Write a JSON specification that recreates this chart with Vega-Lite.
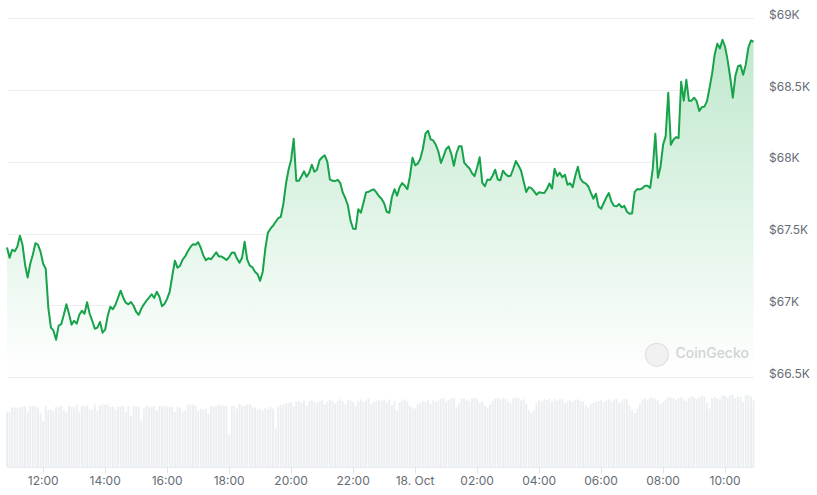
{
  "$schema": "https://vega.github.io/schema/vega-lite/v6.json",
  "width": 746.5,
  "height": 467,
  "autosize": {"type": "none"},
  "padding": {"left": 7, "top": 0, "right": 63.5, "bottom": 28},
  "background": "#ffffff",
  "config": {"view": {"stroke": null}, "font": "Inter"},
  "data": {"values": [
{"t":"2024-10-17T10:51","p":67403,"v":95},{"t":"2024-10-17T10:56","p":67332,"v":94},{"t":"2024-10-17T11:01","p":67387,"v":102},{"t":"2024-10-17T11:06","p":67377,"v":102},{"t":"2024-10-17T11:11","p":67408,"v":102},{"t":"2024-10-17T11:16","p":67485,"v":102},{"t":"2024-10-17T11:21","p":67422,"v":104},{"t":"2024-10-17T11:26","p":67283,"v":104},{"t":"2024-10-17T11:31","p":67194,"v":95},{"t":"2024-10-17T11:36","p":67290,"v":104},{"t":"2024-10-17T11:41","p":67352,"v":104},{"t":"2024-10-17T11:46","p":67433,"v":104},
{"t":"2024-10-17T11:51","p":67422,"v":102},{"t":"2024-10-17T11:56","p":67373,"v":92},{"t":"2024-10-17T12:01","p":67290,"v":79},{"t":"2024-10-17T12:06","p":67255,"v":105},{"t":"2024-10-17T12:11","p":66983,"v":98},{"t":"2024-10-17T12:16","p":66844,"v":98},{"t":"2024-10-17T12:21","p":66823,"v":96},{"t":"2024-10-17T12:26","p":66760,"v":103},{"t":"2024-10-17T12:31","p":66858,"v":103},{"t":"2024-10-17T12:36","p":66868,"v":105},{"t":"2024-10-17T12:41","p":66934,"v":98},{"t":"2024-10-17T12:46","p":67007,"v":94},
{"t":"2024-10-17T12:51","p":66941,"v":105},{"t":"2024-10-17T12:56","p":66865,"v":103},{"t":"2024-10-17T13:01","p":66892,"v":103},{"t":"2024-10-17T13:06","p":66872,"v":107},{"t":"2024-10-17T13:11","p":66934,"v":95},{"t":"2024-10-17T13:16","p":66962,"v":105},{"t":"2024-10-17T13:21","p":66941,"v":105},{"t":"2024-10-17T13:26","p":67021,"v":105},{"t":"2024-10-17T13:31","p":66941,"v":99},{"t":"2024-10-17T13:36","p":66892,"v":98},{"t":"2024-10-17T13:41","p":66837,"v":107},{"t":"2024-10-17T13:46","p":66844,"v":96},
{"t":"2024-10-17T13:51","p":66885,"v":105},{"t":"2024-10-17T13:56","p":66809,"v":107},{"t":"2024-10-17T14:01","p":66830,"v":107},{"t":"2024-10-17T14:06","p":66927,"v":107},{"t":"2024-10-17T14:11","p":66990,"v":103},{"t":"2024-10-17T14:16","p":66973,"v":103},{"t":"2024-10-17T14:21","p":67004,"v":98},{"t":"2024-10-17T14:26","p":67053,"v":104},{"t":"2024-10-17T14:31","p":67102,"v":103},{"t":"2024-10-17T14:36","p":67053,"v":105},{"t":"2024-10-17T14:41","p":67018,"v":94},{"t":"2024-10-17T14:46","p":67007,"v":105},
{"t":"2024-10-17T14:51","p":67023,"v":88},{"t":"2024-10-17T14:56","p":66997,"v":105},{"t":"2024-10-17T15:01","p":66955,"v":104},{"t":"2024-10-17T15:06","p":66934,"v":104},{"t":"2024-10-17T15:11","p":66976,"v":80},{"t":"2024-10-17T15:16","p":67007,"v":100},{"t":"2024-10-17T15:21","p":67032,"v":105},{"t":"2024-10-17T15:26","p":67053,"v":103},{"t":"2024-10-17T15:31","p":67077,"v":103},{"t":"2024-10-17T15:36","p":67051,"v":105},{"t":"2024-10-17T15:41","p":67095,"v":96},{"t":"2024-10-17T15:46","p":67060,"v":104},
{"t":"2024-10-17T15:51","p":66993,"v":104},{"t":"2024-10-17T15:56","p":67011,"v":105},{"t":"2024-10-17T16:01","p":67046,"v":104},{"t":"2024-10-17T16:06","p":67095,"v":103},{"t":"2024-10-17T16:11","p":67206,"v":103},{"t":"2024-10-17T16:16","p":67311,"v":94},{"t":"2024-10-17T16:21","p":67262,"v":103},{"t":"2024-10-17T16:26","p":67276,"v":101},{"t":"2024-10-17T16:31","p":67318,"v":95},{"t":"2024-10-17T16:36","p":67342,"v":97},{"t":"2024-10-17T16:41","p":67377,"v":107},{"t":"2024-10-17T16:46","p":67405,"v":107},
{"t":"2024-10-17T16:51","p":67426,"v":107},{"t":"2024-10-17T16:56","p":67422,"v":105},{"t":"2024-10-17T17:01","p":67440,"v":96},{"t":"2024-10-17T17:06","p":67401,"v":100},{"t":"2024-10-17T17:11","p":67348,"v":98},{"t":"2024-10-17T17:16","p":67314,"v":100},{"t":"2024-10-17T17:21","p":67328,"v":91},{"t":"2024-10-17T17:26","p":67321,"v":105},{"t":"2024-10-17T17:31","p":67345,"v":103},{"t":"2024-10-17T17:36","p":67370,"v":105},{"t":"2024-10-17T17:41","p":67341,"v":107},{"t":"2024-10-17T17:46","p":67341,"v":105},
{"t":"2024-10-17T17:51","p":67329,"v":105},{"t":"2024-10-17T17:56","p":67316,"v":105},{"t":"2024-10-17T18:01","p":67336,"v":55},{"t":"2024-10-17T18:06","p":67366,"v":105},{"t":"2024-10-17T18:11","p":67368,"v":105},{"t":"2024-10-17T18:16","p":67328,"v":100},{"t":"2024-10-17T18:21","p":67297,"v":108},{"t":"2024-10-17T18:26","p":67332,"v":105},{"t":"2024-10-17T18:31","p":67443,"v":105},{"t":"2024-10-17T18:36","p":67318,"v":107},{"t":"2024-10-17T18:41","p":67276,"v":107},{"t":"2024-10-17T18:46","p":67265,"v":103},
{"t":"2024-10-17T18:51","p":67234,"v":102},{"t":"2024-10-17T18:56","p":67217,"v":98},{"t":"2024-10-17T19:01","p":67171,"v":100},{"t":"2024-10-17T19:06","p":67234,"v":97},{"t":"2024-10-17T19:11","p":67394,"v":101},{"t":"2024-10-17T19:16","p":67506,"v":99},{"t":"2024-10-17T19:21","p":67534,"v":103},{"t":"2024-10-17T19:26","p":67555,"v":100},{"t":"2024-10-17T19:31","p":67582,"v":66},{"t":"2024-10-17T19:36","p":67607,"v":104},{"t":"2024-10-17T19:41","p":67617,"v":106},{"t":"2024-10-17T19:46","p":67708,"v":108},
{"t":"2024-10-17T19:51","p":67847,"v":109},{"t":"2024-10-17T19:56","p":67945,"v":110},{"t":"2024-10-17T20:01","p":68015,"v":111},{"t":"2024-10-17T20:06","p":68161,"v":104},{"t":"2024-10-17T20:11","p":67868,"v":112},{"t":"2024-10-17T20:16","p":67868,"v":113},{"t":"2024-10-17T20:21","p":67900,"v":110},{"t":"2024-10-17T20:26","p":67934,"v":114},{"t":"2024-10-17T20:31","p":67896,"v":105},{"t":"2024-10-17T20:36","p":67924,"v":113},{"t":"2024-10-17T20:41","p":67980,"v":114},{"t":"2024-10-17T20:46","p":67931,"v":112},
{"t":"2024-10-17T20:51","p":67945,"v":110},{"t":"2024-10-17T20:56","p":68011,"v":113},{"t":"2024-10-17T21:01","p":68032,"v":114},{"t":"2024-10-17T21:06","p":68045,"v":107},{"t":"2024-10-17T21:11","p":68001,"v":112},{"t":"2024-10-17T21:16","p":67878,"v":115},{"t":"2024-10-17T21:21","p":67868,"v":113},{"t":"2024-10-17T21:26","p":67866,"v":109},{"t":"2024-10-17T21:31","p":67875,"v":112},{"t":"2024-10-17T21:36","p":67854,"v":116},{"t":"2024-10-17T21:41","p":67785,"v":113},{"t":"2024-10-17T21:46","p":67746,"v":108},
{"t":"2024-10-17T21:51","p":67694,"v":114},{"t":"2024-10-17T21:56","p":67589,"v":115},{"t":"2024-10-17T22:01","p":67534,"v":111},{"t":"2024-10-17T22:06","p":67532,"v":105},{"t":"2024-10-17T22:11","p":67670,"v":113},{"t":"2024-10-17T22:16","p":67645,"v":116},{"t":"2024-10-17T22:21","p":67715,"v":112},{"t":"2024-10-17T22:26","p":67787,"v":114},{"t":"2024-10-17T22:31","p":67791,"v":117},{"t":"2024-10-17T22:36","p":67802,"v":108},{"t":"2024-10-17T22:41","p":67808,"v":112},{"t":"2024-10-17T22:46","p":67787,"v":113},
{"t":"2024-10-17T22:51","p":67760,"v":115},{"t":"2024-10-17T22:56","p":67743,"v":114},{"t":"2024-10-17T23:01","p":67711,"v":116},{"t":"2024-10-17T23:06","p":67652,"v":111},{"t":"2024-10-17T23:11","p":67645,"v":115},{"t":"2024-10-17T23:16","p":67753,"v":106},{"t":"2024-10-17T23:21","p":67809,"v":113},{"t":"2024-10-17T23:26","p":67764,"v":96},{"t":"2024-10-17T23:31","p":67823,"v":110},{"t":"2024-10-17T23:36","p":67852,"v":114},{"t":"2024-10-17T23:41","p":67833,"v":116},{"t":"2024-10-17T23:46","p":67809,"v":112},
{"t":"2024-10-17T23:51","p":67900,"v":104},{"t":"2024-10-17T23:56","p":68029,"v":102},{"t":"2024-10-18T00:01","p":67976,"v":100},{"t":"2024-10-18T00:06","p":67987,"v":107},{"t":"2024-10-18T00:11","p":68022,"v":110},{"t":"2024-10-18T00:16","p":68091,"v":113},{"t":"2024-10-18T00:21","p":68196,"v":111},{"t":"2024-10-18T00:26","p":68217,"v":114},{"t":"2024-10-18T00:31","p":68157,"v":108},{"t":"2024-10-18T00:36","p":68149,"v":115},{"t":"2024-10-18T00:41","p":68119,"v":112},{"t":"2024-10-18T00:46","p":68072,"v":114},
{"t":"2024-10-18T00:51","p":67992,"v":117},{"t":"2024-10-18T00:56","p":68038,"v":118},{"t":"2024-10-18T01:01","p":68090,"v":112},{"t":"2024-10-18T01:06","p":68107,"v":115},{"t":"2024-10-18T01:11","p":68056,"v":118},{"t":"2024-10-18T01:16","p":67973,"v":119},{"t":"2024-10-18T01:21","p":68060,"v":103},{"t":"2024-10-18T01:26","p":68109,"v":109},{"t":"2024-10-18T01:31","p":68108,"v":117},{"t":"2024-10-18T01:36","p":67994,"v":118},{"t":"2024-10-18T01:41","p":67973,"v":116},{"t":"2024-10-18T01:46","p":67955,"v":113},
{"t":"2024-10-18T01:51","p":67922,"v":118},{"t":"2024-10-18T01:56","p":67900,"v":119},{"t":"2024-10-18T02:01","p":67960,"v":117},{"t":"2024-10-18T02:06","p":68032,"v":110},{"t":"2024-10-18T02:11","p":67854,"v":112},{"t":"2024-10-18T02:16","p":67830,"v":105},{"t":"2024-10-18T02:21","p":67877,"v":102},{"t":"2024-10-18T02:26","p":67873,"v":107},{"t":"2024-10-18T02:31","p":67903,"v":113},{"t":"2024-10-18T02:36","p":67945,"v":117},{"t":"2024-10-18T02:41","p":67877,"v":119},{"t":"2024-10-18T02:46","p":67872,"v":116},
{"t":"2024-10-18T02:51","p":67938,"v":118},{"t":"2024-10-18T02:56","p":67915,"v":117},{"t":"2024-10-18T03:01","p":67900,"v":112},{"t":"2024-10-18T03:06","p":67903,"v":110},{"t":"2024-10-18T03:11","p":67952,"v":118},{"t":"2024-10-18T03:16","p":68006,"v":119},{"t":"2024-10-18T03:21","p":67974,"v":118},{"t":"2024-10-18T03:26","p":67940,"v":114},{"t":"2024-10-18T03:31","p":67865,"v":116},{"t":"2024-10-18T03:36","p":67790,"v":108},{"t":"2024-10-18T03:41","p":67823,"v":98},{"t":"2024-10-18T03:46","p":67817,"v":93},
{"t":"2024-10-18T03:51","p":67796,"v":97},{"t":"2024-10-18T03:56","p":67771,"v":110},{"t":"2024-10-18T04:01","p":67788,"v":114},{"t":"2024-10-18T04:06","p":67785,"v":113},{"t":"2024-10-18T04:11","p":67783,"v":116},{"t":"2024-10-18T04:16","p":67810,"v":115},{"t":"2024-10-18T04:21","p":67849,"v":117},{"t":"2024-10-18T04:26","p":67814,"v":112},{"t":"2024-10-18T04:31","p":67952,"v":116},{"t":"2024-10-18T04:36","p":67901,"v":114},{"t":"2024-10-18T04:41","p":67924,"v":117},{"t":"2024-10-18T04:46","p":67893,"v":116},
{"t":"2024-10-18T04:51","p":67910,"v":110},{"t":"2024-10-18T04:56","p":67840,"v":113},{"t":"2024-10-18T05:01","p":67851,"v":114},{"t":"2024-10-18T05:06","p":67823,"v":112},{"t":"2024-10-18T05:11","p":67903,"v":115},{"t":"2024-10-18T05:16","p":67966,"v":116},{"t":"2024-10-18T05:21","p":67882,"v":113},{"t":"2024-10-18T05:26","p":67858,"v":112},{"t":"2024-10-18T05:31","p":67850,"v":106},{"t":"2024-10-18T05:36","p":67830,"v":102},{"t":"2024-10-18T05:41","p":67785,"v":108},{"t":"2024-10-18T05:46","p":67743,"v":110},
{"t":"2024-10-18T05:51","p":67778,"v":112},{"t":"2024-10-18T05:56","p":67689,"v":113},{"t":"2024-10-18T06:01","p":67673,"v":115},{"t":"2024-10-18T06:06","p":67713,"v":111},{"t":"2024-10-18T06:11","p":67751,"v":114},{"t":"2024-10-18T06:16","p":67782,"v":116},{"t":"2024-10-18T06:21","p":67724,"v":112},{"t":"2024-10-18T06:26","p":67693,"v":115},{"t":"2024-10-18T06:31","p":67690,"v":117},{"t":"2024-10-18T06:36","p":67706,"v":110},{"t":"2024-10-18T06:41","p":67683,"v":113},{"t":"2024-10-18T06:46","p":67693,"v":117},
{"t":"2024-10-18T06:51","p":67652,"v":116},{"t":"2024-10-18T06:56","p":67638,"v":106},{"t":"2024-10-18T07:01","p":67641,"v":98},{"t":"2024-10-18T07:06","p":67791,"v":93},{"t":"2024-10-18T07:11","p":67810,"v":100},{"t":"2024-10-18T07:16","p":67808,"v":108},{"t":"2024-10-18T07:21","p":67816,"v":116},{"t":"2024-10-18T07:26","p":67834,"v":118},{"t":"2024-10-18T07:31","p":67833,"v":115},{"t":"2024-10-18T07:36","p":67818,"v":119},{"t":"2024-10-18T07:41","p":67952,"v":118},{"t":"2024-10-18T07:46","p":68196,"v":117},
{"t":"2024-10-18T07:51","p":67889,"v":114},{"t":"2024-10-18T07:56","p":67966,"v":108},{"t":"2024-10-18T08:01","p":68119,"v":111},{"t":"2024-10-18T08:06","p":68179,"v":116},{"t":"2024-10-18T08:11","p":68482,"v":120},{"t":"2024-10-18T08:16","p":68119,"v":119},{"t":"2024-10-18T08:21","p":68154,"v":118},{"t":"2024-10-18T08:26","p":68171,"v":115},{"t":"2024-10-18T08:31","p":68166,"v":118},{"t":"2024-10-18T08:36","p":68558,"v":120},{"t":"2024-10-18T08:41","p":68426,"v":116},{"t":"2024-10-18T08:46","p":68572,"v":113},
{"t":"2024-10-18T08:51","p":68426,"v":118},{"t":"2024-10-18T08:56","p":68426,"v":121},{"t":"2024-10-18T09:01","p":68447,"v":120},{"t":"2024-10-18T09:06","p":68423,"v":116},{"t":"2024-10-18T09:11","p":68354,"v":119},{"t":"2024-10-18T09:16","p":68381,"v":122},{"t":"2024-10-18T09:21","p":68385,"v":121},{"t":"2024-10-18T09:26","p":68423,"v":110},{"t":"2024-10-18T09:31","p":68516,"v":100},{"t":"2024-10-18T09:36","p":68618,"v":118},{"t":"2024-10-18T09:41","p":68750,"v":121},{"t":"2024-10-18T09:46","p":68824,"v":117},
{"t":"2024-10-18T09:51","p":68791,"v":116},{"t":"2024-10-18T09:56","p":68851,"v":123},{"t":"2024-10-18T10:01","p":68802,"v":122},{"t":"2024-10-18T10:06","p":68707,"v":119},{"t":"2024-10-18T10:11","p":68586,"v":123},{"t":"2024-10-18T10:16","p":68447,"v":124},{"t":"2024-10-18T10:21","p":68600,"v":118},{"t":"2024-10-18T10:26","p":68666,"v":121},{"t":"2024-10-18T10:31","p":68673,"v":120},{"t":"2024-10-18T10:36","p":68607,"v":112},{"t":"2024-10-18T10:41","p":68677,"v":123},{"t":"2024-10-18T10:46","p":68795,"v":124},
{"t":"2024-10-18T10:51","p":68846,"v":121},{"t":"2024-10-18T10:56","p":68837,"v":114}
  ]},
  "encoding": {
    "x": {
      "field": "t",
      "type": "temporal",
      "scale": {"nice": false, "padding": 0},
      "axis": {
        "title": null,
        "grid": false,
        "values": [
          {"year": 2024, "month": 10, "date": 17, "hours": 12},
          {"year": 2024, "month": 10, "date": 17, "hours": 14},
          {"year": 2024, "month": 10, "date": 17, "hours": 16},
          {"year": 2024, "month": 10, "date": 17, "hours": 18},
          {"year": 2024, "month": 10, "date": 17, "hours": 20},
          {"year": 2024, "month": 10, "date": 17, "hours": 22},
          {"year": 2024, "month": 10, "date": 18, "hours": 0},
          {"year": 2024, "month": 10, "date": 18, "hours": 2},
          {"year": 2024, "month": 10, "date": 18, "hours": 4},
          {"year": 2024, "month": 10, "date": 18, "hours": 6},
          {"year": 2024, "month": 10, "date": 18, "hours": 8},
          {"year": 2024, "month": 10, "date": 18, "hours": 10}
        ],
        "labelExpr": "hours(datum.value) == 0 ? timeFormat(datum.value, '%d. %b') : timeFormat(datum.value, '%H:%M')",
        "domain": true,
        "domainColor": "#e8eaed",
        "tickColor": "#e3e5e8",
        "tickSize": 6,
        "labelPadding": 2,
        "labelFont": "Inter",
        "labelFontSize": 12,
        "labelColor": "#656c76",
        "labelOverlap": false
      }
    }
  },
  "layer": [
    {
      "mark": {"type": "bar", "size": 2, "color": "#eceff2"},
      "encoding": {
        "y": {"field": "v", "type": "quantitative", "scale": {"domain": [0, 800], "nice": false}, "axis": null}
      }
    },
    {
      "layer": [
        {
          "mark": {
            "type": "area",
            "color": {
              "gradient": "linear",
              "x1": 0, "y1": 0, "x2": 0, "y2": 1,
              "stops": [
                {"offset": 0, "color": "#c0e8cd"},
                {"offset": 1, "color": "#ffffff"}
              ]
            }
          },
          "encoding": {
            "y": {
              "field": "p",
              "type": "quantitative",
              "scale": {"domain": [65873, 69128], "nice": false, "zero": false},
              "axis": {
                "orient": "right",
                "title": null,
                "values": [66500, 67000, 67500, 68000, 68500, 69000],
                "labelExpr": "'$' + (datum.value / 1000) + 'K'",
                "domain": false,
                "ticks": false,
                "grid": true,
                "gridColor": "#eceef1",
                "gridWidth": 1,
                "labelPadding": 15,
                "labelBaseline": "alphabetic",
                "labelFont": "Inter",
                "labelFontSize": 12,
                "labelColor": "#656c76"
              }
            },
            "y2": {"datum": 66500}
          }
        },
        {
          "mark": {"type": "line", "color": "#16a34a", "strokeWidth": 2, "strokeJoin": "round"},
          "encoding": {
            "y": {
              "field": "p",
              "type": "quantitative",
              "scale": {"domain": [65873, 69128], "nice": false, "zero": false},
              "axis": {
                "orient": "right",
                "title": null,
                "values": [66500, 67000, 67500, 68000, 68500, 69000],
                "labelExpr": "'$' + (datum.value / 1000) + 'K'",
                "domain": false,
                "ticks": false,
                "grid": true,
                "gridColor": "#eceef1",
                "gridWidth": 1,
                "labelPadding": 15,
                "labelBaseline": "alphabetic",
                "labelFont": "Inter",
                "labelFontSize": 12,
                "labelColor": "#656c76"
              }
            }
          }
        },
        {
          "data": {"values": [{"label": "CoinGecko", "lt": "2024-10-18T07:49", "lp": 66655}]},
          "mark": {"type": "point", "filled": true, "shape": "circle", "size": 530, "color": "#f1f1f1", "stroke": "#e0e0e0", "strokeWidth": 1.2, "opacity": 1},
          "encoding": {
            "x": {"field": "lt", "type": "temporal"},
            "y": {"field": "lp", "type": "quantitative"}
          }
        },
        {
          "data": {"values": [{"label": "CoinGecko", "lt": "2024-10-18T08:25", "lp": 66662}]},
          "mark": {"type": "text", "align": "left", "baseline": "middle", "font": "Inter", "fontSize": 14, "fontWeight": 500, "color": "#d2d2d2"},
          "encoding": {
            "x": {"field": "lt", "type": "temporal"},
            "y": {"field": "lp", "type": "quantitative"},
            "text": {"field": "label"}
          }
        }
      ]
    }
  ],
  "resolve": {"scale": {"y": "independent"}}
}
